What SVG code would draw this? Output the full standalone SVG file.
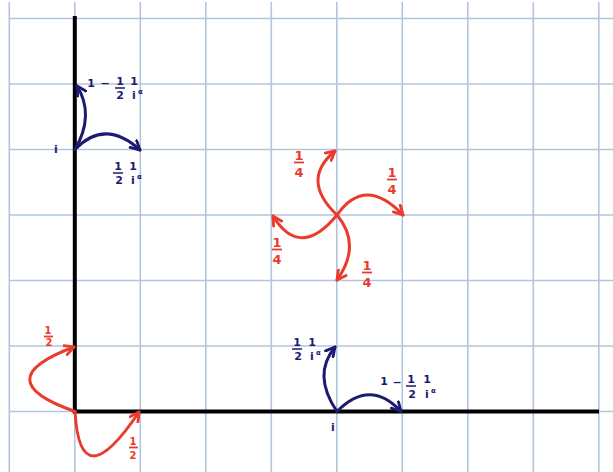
<svg xmlns="http://www.w3.org/2000/svg" width="613" height="472" viewBox="0 0 613 472">
<style>
.grid{stroke:#b3c5de;stroke-width:1.6;fill:none}
.axis{stroke:#000;stroke-width:4;fill:none;stroke-linecap:butt}
.blue{stroke:#1d1a72;stroke-width:3;fill:none;stroke-linecap:round}
.red{stroke:#ea3c2c;stroke-width:3;fill:none;stroke-linecap:round}
.bt{fill:#1d1a72;font-family:"DejaVu Sans","Liberation Sans",sans-serif;font-weight:bold;font-size:11px;text-anchor:middle}
.rt{fill:#ea3c2c;font-family:"DejaVu Sans","Liberation Sans",sans-serif;font-weight:bold;font-size:13px;text-anchor:middle}
.rs{fill:#ea3c2c;font-family:"DejaVu Sans","Liberation Sans",sans-serif;font-weight:bold;font-size:10px;text-anchor:middle}
.sup{font-size:7px;text-anchor:start}
.bbar{stroke:#1d1a72;stroke-width:1.5}
.rbar{stroke:#ea3c2c;stroke-width:1.8}
</style>
<defs>
<marker id="ab" viewBox="0 0 10 10" refX="8.5" refY="5" markerWidth="12" markerHeight="12" markerUnits="userSpaceOnUse" orient="auto">
<path d="M1,1 L8.5,5 L1,9" fill="none" stroke="#1d1a72" stroke-width="2.4" stroke-linecap="round" stroke-linejoin="round"/>
</marker>
<marker id="ar" viewBox="0 0 10 10" refX="8.5" refY="5" markerWidth="12" markerHeight="12" markerUnits="userSpaceOnUse" orient="auto">
<path d="M1,1 L8.5,5 L1,9" fill="none" stroke="#ea3c2c" stroke-width="2.4" stroke-linecap="round" stroke-linejoin="round"/>
</marker>
</defs>
<rect width="613" height="472" fill="#fff"/>
<g id="grid" class="grid">
<path d="M9.3,2V472M74.8,2V472M140.3,2V472M205.8,2V472M271.3,2V472M336.8,2V472M402.3,2V472M467.8,2V472M533.3,2V472M598.8,2V472"/>
<path d="M9.3,18.5H613M9.3,84H613M9.3,149.5H613M9.3,215H613M9.3,280.5H613M9.3,346H613M9.3,411.5H613"/>
</g>
<g id="axes" class="axis">
<path d="M74.8,16V413.5"/>
<path d="M72.8,411.5H599"/>
</g>
<g id="connectors">
<path class="blue" d="M75,149.5 Q95,115 77,86" marker-end="url(#ab)"/>
<path class="blue" d="M75,149.5 Q105,118 140,150" marker-end="url(#ab)"/>
<path class="blue" d="M337,411.5 Q312,375 335,347" marker-end="url(#ab)"/>
<path class="blue" d="M337,411.5 Q370,378 401,411.5" marker-end="url(#ab)"/>
<path class="red" d="M337,215 Q300,180 335,151" marker-end="url(#ar)"/>
<path class="red" d="M337,215 Q365,175 403,215" marker-end="url(#ar)"/>
<path class="red" d="M337,215 Q300,260 273,216" marker-end="url(#ar)"/>
<path class="red" d="M337,215 Q362,245 337,280" marker-end="url(#ar)"/>
<path class="red" d="M75,411.5 Q-15,380 74,347" marker-end="url(#ar)"/>
<path class="red" d="M75,411.5 Q80,500 139,412" marker-end="url(#ar)"/>
</g>
<g id="node-top-left">
<text class="bt" x="56" y="153">i</text>
<text class="bt" x="91" y="87">1</text>
<text class="bt" x="105" y="87">−</text>
<text class="bt" x="120" y="85">1</text>
<line class="bbar" x1="115" y1="88" x2="125" y2="88"/>
<text class="bt" x="120" y="99">2</text>
<text class="bt" x="134" y="85">1</text>
<text class="bt" x="134" y="99">i</text>
<text class="bt sup" x="138" y="94">α</text>
<text class="bt" x="118" y="170">1</text>
<line class="bbar" x1="113" y1="173" x2="123" y2="173"/>
<text class="bt" x="119" y="184">2</text>
<text class="bt" x="133" y="170">1</text>
<text class="bt" x="133" y="184">i</text>
<text class="bt sup" x="137" y="179">α</text>
</g>
<g id="node-bottom-right">
<text class="bt" x="333" y="431">i</text>
<text class="bt" x="297" y="346">1</text>
<line class="bbar" x1="292" y1="349" x2="302" y2="349"/>
<text class="bt" x="298" y="360">2</text>
<text class="bt" x="312" y="346">1</text>
<text class="bt" x="312" y="360">i</text>
<text class="bt sup" x="316" y="355">α</text>
<text class="bt" x="384" y="385">1</text>
<text class="bt" x="397" y="386">−</text>
<text class="bt" x="411" y="383">1</text>
<line class="bbar" x1="406" y1="386" x2="416" y2="386"/>
<text class="bt" x="412" y="398">2</text>
<text class="bt" x="427" y="383">1</text>
<text class="bt" x="427" y="398">i</text>
<text class="bt sup" x="431" y="393">α</text>
</g>
<g id="node-pinwheel">
<text class="rt" x="299" y="160">1</text>
<line class="rbar" x1="294" y1="162.5" x2="304" y2="162.5"/>
<text class="rt" x="299" y="177">4</text>
<text class="rt" x="392" y="177">1</text>
<line class="rbar" x1="387" y1="179.5" x2="397" y2="179.5"/>
<text class="rt" x="392" y="194">4</text>
<text class="rt" x="277" y="247">1</text>
<line class="rbar" x1="272" y1="249.5" x2="282" y2="249.5"/>
<text class="rt" x="277" y="264">4</text>
<text class="rt" x="367" y="270">1</text>
<line class="rbar" x1="362" y1="272.5" x2="372" y2="272.5"/>
<text class="rt" x="367" y="287">4</text>
</g>
<g id="node-origin">
<text class="rs" x="48" y="334">1</text>
<line class="rbar" x1="44" y1="336.5" x2="53" y2="336.5"/>
<text class="rs" x="49" y="346">2</text>
<text class="rs" x="133" y="445">1</text>
<line class="rbar" x1="129" y1="447.5" x2="138" y2="447.5"/>
<text class="rs" x="133" y="459">2</text>
</g>
</svg>
